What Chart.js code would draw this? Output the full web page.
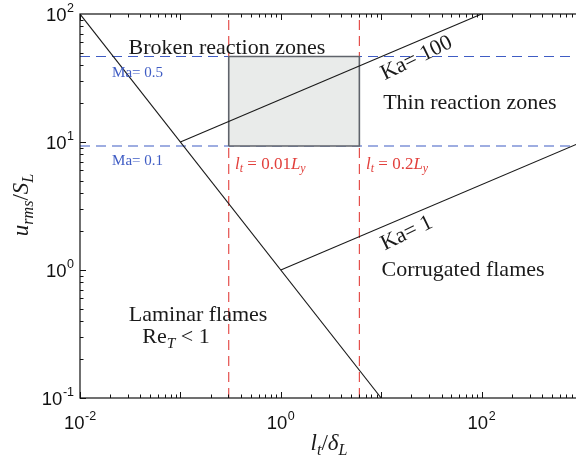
<!DOCTYPE html>
<html>
<head>
<meta charset="utf-8">
<script src="https://cdn.jsdelivr.net/npm/chart.js@4"></script>
<style>
  html, body { margin: 0; padding: 0; background: #fff; overflow: hidden; }
  #wrap { width: 576px; height: 461px; overflow: hidden; }
</style>
</head>
<body>
<div id="wrap"><canvas id="regime" width="590" height="461"></canvas></div>
<script>
// axis ranges (l_t/delta_L and u_rms/S_L)
const xRange = [0.01, 1000];
const yRange = [0.1, 100];
const xTickExp = [-2, 0, 2];
const yTickExp = [-1, 0, 1, 2];

// regime boundaries
const reX = [0.01, 10];
const reY = [100, 0.1];
const ka100X = [0.1, 100];
const ka100Y = [10, 100];
const ka1X = [1, 1000];
const ka1Y = [1, 10];

// Mach number levels and integral length scale limits
const maLevels = [9.3, 46.5];
const ltLevels = [0.303, 6.06];

const black = '#1a1a1a';
const blue = '#3f5cc4';
const red = '#e2403c';

function pts(xs, ys) {
  return xs.map((x, i) => ({ x: x, y: ys[i] }));
}

const boxPts = [
  { x: ltLevels[0], y: maLevels[0] },
  { x: ltLevels[1], y: maLevels[0] },
  { x: ltLevels[1], y: maLevels[1] },
  { x: ltLevels[0], y: maLevels[1] },
  { x: ltLevels[0], y: maLevels[0] }
];

const datasets = [
  { data: pts(reX, reY), borderColor: black, borderWidth: 1.1 },
  { data: pts(ka100X, ka100Y), borderColor: black, borderWidth: 1.1 },
  { data: pts(ka1X, ka1Y), borderColor: black, borderWidth: 1.1 },
  { data: boxPts, borderColor: '#5f636b', borderWidth: 1.6, backgroundColor: '#e9ebea', fill: 'shape' }
];
for (const m of maLevels) {
  datasets.push({ data: pts(xRange, [m, m]), borderColor: blue, borderWidth: 1.1, borderDash: [10, 6] });
}
for (const l of ltLevels) {
  datasets.push({ data: pts([l, l], yRange), borderColor: red, borderWidth: 1.1, borderDash: [10, 6] });
}

// text: parts are [text, italic, subscript]
const serif = '"Liberation Serif", "DejaVu Serif", serif';
const notes = [
  { x: 0.291, y: 55.2, size: 22, color: black, parts: [['Broken reaction zones']] },
  { x: 76.5, y: 20.5, size: 22, color: black, parts: [['Thin reaction zones']] },
  { x: 65.3, y: 1.02, size: 22, color: black, parts: [['Corrugated flames']] },
  { x: 0.15, y: 0.453, size: 22, color: black, parts: [['Laminar flames']] },
  { x: 0.0903, y: 0.305, size: 22, color: black, parts: [['Re'], ['T', true, true], [' < 1']] },
  { x: 0.0374, y: 35.2, size: 15, color: blue, parts: [['Ma= 0.5']] },
  { x: 0.0374, y: 7.22, size: 15, color: blue, parts: [['Ma= 0.1']] },
  { x: 0.35, y: 6.86, size: 17, color: red, align: 0, parts: [['l', true], ['t', true, true], [' = 0.01'], ['L', true], ['y', true, true]] },
  { x: 7.06, y: 6.86, size: 17, color: red, align: 0, parts: [['l', true], ['t', true, true], [' = 0.2'], ['L', true], ['y', true, true]] },
  { x: 22.2, y: 46.2, size: 22, color: black, rot: -26, parts: [['Ka= 100']] },
  { x: 17.7, y: 1.98, size: 22, color: black, rot: -26, parts: [['Ka= 1']] }
];

function drawRich(ctx, parts, x, y, size, color, align, rot) {
  const font = (p) => (p[1] ? 'italic ' : '') + (p[2] ? size * 0.7 : size) + 'px ' + serif;
  let w = 0;
  for (const p of parts) { ctx.font = font(p); w += ctx.measureText(p[0]).width; }
  ctx.save();
  ctx.translate(x, y);
  ctx.rotate((rot || 0) * Math.PI / 180);
  ctx.fillStyle = color;
  ctx.textBaseline = 'alphabetic';
  ctx.textAlign = 'left';
  let cx = -w * (align === undefined ? 0.5 : align);
  const base = size * 0.33;
  for (const p of parts) {
    ctx.font = font(p);
    ctx.fillText(p[0], cx, base + (p[2] ? size * 0.22 : 0));
    cx += ctx.measureText(p[0]).width;
  }
  ctx.restore();
}

function drawPow(ctx, exp, x, y, align) {
  const big = '18.5px "Liberation Sans", Arial, sans-serif';
  const small = '12.5px "Liberation Sans", Arial, sans-serif';
  ctx.font = big;
  const w1 = ctx.measureText('10').width;
  ctx.font = small;
  const w2 = ctx.measureText(String(exp)).width;
  const w = w1 + w2 + 0.5;
  const left = align === 'right' ? x - w : x - w / 2;
  ctx.fillStyle = '#111';
  ctx.textBaseline = 'alphabetic';
  ctx.textAlign = 'left';
  ctx.font = big;
  ctx.fillText('10', left, y + 6.5);
  ctx.font = small;
  ctx.fillText(String(exp), left + w1 + 0.5, y - 2.5);
}

const frame = {
  id: 'frame',
  afterDatasetsDraw(chart) {
    const ctx = chart.ctx;
    const a = chart.chartArea;
    const xs = chart.scales.x, ys = chart.scales.y;
    ctx.save();
    ctx.strokeStyle = '#111';
    ctx.lineWidth = 1.2;
    ctx.strokeRect(a.left, a.top, a.right - a.left, a.bottom - a.top);

    // inward ticks on all four sides
    ctx.lineWidth = 1;
    ctx.beginPath();
    for (let e = -2; e < 3; e++) {
      for (let k = 1; k < 10; k++) {
        const px = Math.round(xs.getPixelForValue(k * Math.pow(10, e))) + 0.5;
        const len = k === 1 ? 6 : 3.5;
        ctx.moveTo(px, a.bottom); ctx.lineTo(px, a.bottom - len);
        ctx.moveTo(px, a.top); ctx.lineTo(px, a.top + len);
      }
    }
    for (let e = -1; e < 2; e++) {
      for (let k = 1; k < 10; k++) {
        const py = Math.round(ys.getPixelForValue(k * Math.pow(10, e))) + 0.5;
        const len = k === 1 ? 6 : 3.5;
        ctx.moveTo(a.left, py); ctx.lineTo(a.left + len, py);
        ctx.moveTo(a.right, py); ctx.lineTo(a.right - len, py);
      }
    }
    ctx.stroke();

    for (const e of xTickExp) drawPow(ctx, e, xs.getPixelForValue(Math.pow(10, e)), a.bottom + 24, 'center');
    for (const e of yTickExp) drawPow(ctx, e, a.left - 6, ys.getPixelForValue(Math.pow(10, e)), 'right');

    for (const n of notes) {
      drawRich(ctx, n.parts, xs.getPixelForValue(n.x), ys.getPixelForValue(n.y), n.size, n.color, n.align, n.rot);
    }

    // axis titles
    drawRich(ctx, [['l', true], ['t', true, true], ['/'], ['δ', true], ['L', true, true]], 329, 442, 23, black);
    drawRich(ctx, [['u', true], ['rms', true, true], ['/'], ['S', true], ['L', true, true]], 20, 205, 23, black, 0.5, -90);
    ctx.restore();
  }
};

new Chart(document.getElementById('regime'), {
  type: 'scatter',
  data: { datasets: datasets },
  options: {
    responsive: false,
    animation: false,
    devicePixelRatio: 1,
    showLine: true,
    layout: { padding: { left: 80, top: 14, right: 8, bottom: 63 } },
    elements: { point: { radius: 0 }, line: { tension: 0 } },
    plugins: { legend: { display: false }, tooltip: { enabled: false } },
    scales: {
      x: { type: 'logarithmic', min: xRange[0], max: xRange[1], display: false },
      y: { type: 'logarithmic', min: yRange[0], max: yRange[1], display: false }
    }
  },
  plugins: [frame]
});
</script>
</body>
</html>
